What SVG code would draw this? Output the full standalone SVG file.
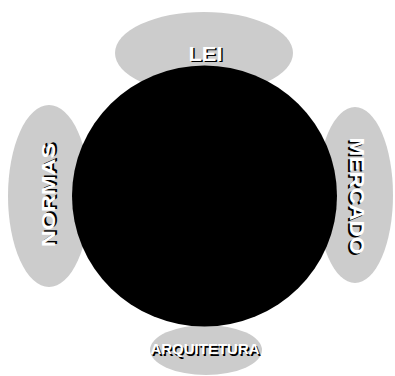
<svg xmlns="http://www.w3.org/2000/svg" width="395" height="376" viewBox="0 0 395 376">
<style>
.pet{fill:#cccccc}
.t{font-family:"Liberation Sans",Arial,sans-serif;font-weight:bold;text-anchor:middle}
.sh{fill:#000}
.fg{fill:#fff}
</style>
<rect width="395" height="376" fill="#fff"/>
<g id="lei"><ellipse class="pet" cx="204" cy="53" rx="89" ry="41"/></g>
<g id="normas"><ellipse class="pet" cx="49" cy="196" rx="41" ry="91"/></g>
<g id="mercado"><ellipse class="pet" cx="355" cy="195" rx="38" ry="88"/></g>
<g id="arquitetura"><ellipse class="pet" cx="206" cy="350" rx="56" ry="25"/></g>
<g id="centro"><ellipse cx="204.5" cy="196" rx="132.5" ry="130.5" fill="#000"/></g>
<g id="labels">
<g class="t" font-size="20"><text class="sh" x="207" y="62" textLength="34" lengthAdjust="spacingAndGlyphs">LEI</text><text class="fg" x="205.5" y="60.5" textLength="34" lengthAdjust="spacingAndGlyphs">LEI</text></g>
<g class="t" font-size="17.5" transform="translate(55,195) rotate(-90)"><text class="sh" x="1.5" y="1.5" textLength="104" lengthAdjust="spacingAndGlyphs">NORMAS</text><text class="fg" x="0" y="0" textLength="104" lengthAdjust="spacingAndGlyphs">NORMAS</text></g>
<g class="t" font-size="20" transform="translate(349.5,196) rotate(90)"><text class="sh" x="1.5" y="1.5" textLength="117" lengthAdjust="spacingAndGlyphs">MERCADO</text><text class="fg" x="0" y="0" textLength="117" lengthAdjust="spacingAndGlyphs">MERCADO</text></g>
<g class="t" font-size="15"><text class="sh" x="206.5" y="355.5">ARQUITETURA</text><text class="fg" x="205" y="354">ARQUITETURA</text></g>
</g>
</svg>
